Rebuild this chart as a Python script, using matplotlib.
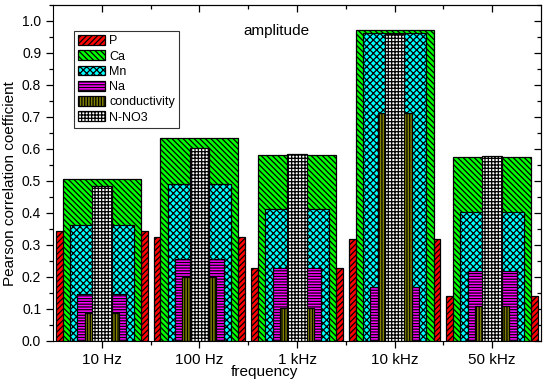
import numpy as np
import matplotlib.pyplot as plt
from matplotlib.ticker import MultipleLocator, FixedLocator

plt.rcParams['font.family'] = ['Liberation Sans', 'DejaVu Sans']
plt.rcParams['hatch.linewidth'] = 0.9

freqs = ['10 Hz', '100 Hz', '1 kHz', '10 kHz', '50 kHz']
P = [0.345, 0.324, 0.228, 0.318, 0.140]
Ca = [0.506, 0.635, 0.581, 0.971, 0.575]
Mn = [0.363, 0.490, 0.412, 0.962, 0.404]
Na = [0.148, 0.257, 0.227, 0.169, 0.218]
conductivity = [0.086, 0.199, 0.102, 0.712, 0.109]
N_NO3 = [0.485, 0.602, 0.584, 0.958, 0.579]

# drawn back to front, widest first
series = [
    ('P', P, 0.94, '#ff0000', '//////'),
    ('Ca', Ca, 0.80, '#00ff00', '\\\\\\\\\\\\'),
    ('Mn', Mn, 0.65, '#00ffff', 'xxxxx'),
    ('Na', Na, 0.50, '#ff00ff', '------'),
    ('conductivity', conductivity, 0.35, '#808000', '||||||'),
    ('N-NO3', N_NO3, 0.20, '#ffffff', '+++++'),
]

fig = plt.figure(figsize=(5.5, 3.84), dpi=100)
ax = fig.add_axes([0.0964, 0.112, 0.8872, 0.875])

x = np.arange(1, len(freqs) + 1)
for name, vals, w, col, hatch in series:
    ax.bar(x, vals, width=w, color=col, edgecolor='black', linewidth=0.9,
           hatch=hatch, label=name)

mids = np.arange(1.5, 5.5, 1.0)
ax.set_xlim(0.5, 5.5)
ax.set_ylim(0, 1.05)
ax.set_xticks(x)
ax.set_xticklabels(freqs, fontsize=11)
ax.xaxis.set_minor_locator(FixedLocator(mids))
ax.yaxis.set_major_locator(MultipleLocator(0.1))
ax.yaxis.set_minor_locator(MultipleLocator(0.05))
ax.set_yticklabels([f'{v:.1f}' for v in ax.get_yticks()])
ax.tick_params(axis='y', labelsize=10)
ax.tick_params(which='both', direction='out', width=0.9)
ax.tick_params(which='major', length=5)
ax.tick_params(which='minor', length=3)

# inward ticks on top and right
ax2 = ax.secondary_xaxis('top')
ax2.set_xticks(x)
ax2.xaxis.set_minor_locator(FixedLocator(mids))
ax2.tick_params(which='both', direction='in', labeltop=False, width=0.9)
ax2.tick_params(which='major', length=5)
ax2.tick_params(which='minor', length=3)
ax3 = ax.secondary_yaxis('right')
ax3.yaxis.set_major_locator(MultipleLocator(0.1))
ax3.yaxis.set_minor_locator(MultipleLocator(0.05))
ax3.tick_params(which='both', direction='in', labelright=False, width=0.9)
ax3.tick_params(which='major', length=5)
ax3.tick_params(which='minor', length=3)

ax.set_ylabel('Pearson correlation coefficient', fontsize=11, va='center')
ax.yaxis.set_label_coords(-0.088, 0.47)
ax.set_xlabel('frequency', fontsize=11, va='center')
ax.xaxis.set_label_coords(0.434, -0.092)

ax.text(0.457, 0.923, 'amplitude', transform=ax.transAxes, ha='center',
        va='center', fontsize=11)

leg = ax.legend(loc='upper left', bbox_to_anchor=(0.043, 0.923), fontsize=9,
                frameon=True, fancybox=False, edgecolor='black',
                handlelength=2.1, handleheight=0.8, handletextpad=0.35,
                labelspacing=0.25, borderpad=0.35, borderaxespad=0)
leg.get_frame().set_linewidth(0.8)

fig.savefig('out.png', dpi=100)
